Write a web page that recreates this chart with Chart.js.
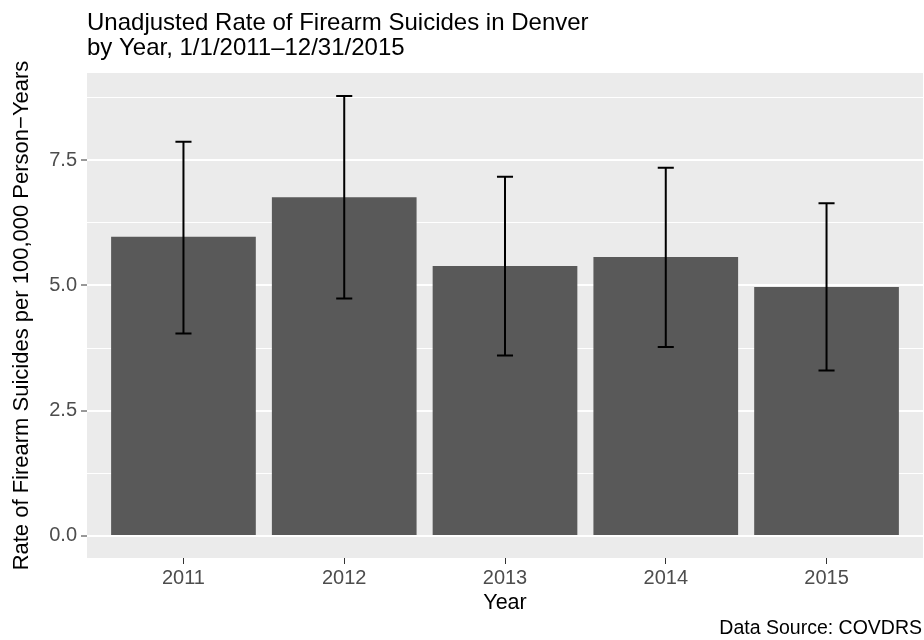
<!DOCTYPE html>
<html>
<head>
<meta charset="utf-8">
<title>Firearm Suicides in Denver</title>
<script src="https://cdn.jsdelivr.net/npm/chart.js@4.4.1/dist/chart.umd.min.js"></script>
<style>
  body { margin: 0; background: #fff; }
  canvas { display: block; }
</style>
</head>
<body>
<canvas id="rateChart" width="924" height="640"></canvas>
<script>
const years = ["2011", "2012", "2013", "2014", "2015"];
const rates = [5.97, 6.76, 5.39, 5.57, 4.97];
const lowerCI = [4.04, 4.74, 3.60, 3.77, 3.30];
const upperCI = [7.87, 8.78, 7.17, 7.35, 6.64];
const majorTicks = [0, 2.5, 5, 7.5];
const minorTicks = [1.25, 3.75, 6.25, 8.75];
const titleLines = ["Unadjusted Rate of Firearm Suicides in Denver", "by Year, 1/1/2011\u201312/31/2015"];
const caption = "Data Source: COVDRS";

const FONT = "'Liberation Sans', Arial, Helvetica, sans-serif";

// grey panel behind everything
const panelBg = {
  id: 'panelBg',
  beforeDraw(chart) {
    const { ctx, chartArea: a } = chart;
    ctx.save();
    ctx.fillStyle = '#EBEBEB';
    ctx.fillRect(a.left, a.top, a.right - a.left, a.bottom - a.top);
    ctx.restore();
  }
};

// confidence interval whiskers
const errorBars = {
  id: 'errorBars',
  afterDatasetsDraw(chart) {
    const { ctx, scales: { x, y } } = chart;
    ctx.save();
    ctx.strokeStyle = '#000';
    ctx.lineWidth = 2;
    years.forEach((yr, i) => {
      const cx = x.getPixelForValue(i + 1);
      const half = x.getPixelForValue(i + 1.05) - cx;
      const top = y.getPixelForValue(upperCI[i]);
      const bot = y.getPixelForValue(lowerCI[i]);
      ctx.beginPath();
      ctx.moveTo(cx, top); ctx.lineTo(cx, bot);
      ctx.moveTo(cx - half, top); ctx.lineTo(cx + half, top);
      ctx.moveTo(cx - half, bot); ctx.lineTo(cx + half, bot);
      ctx.stroke();
    });
    ctx.restore();
  }
};

// title top-left of panel, caption bottom-right
const texts = {
  id: 'texts',
  afterDraw(chart) {
    const { ctx, chartArea: a } = chart;
    ctx.save();
    ctx.fillStyle = '#000';
    ctx.font = '24px ' + FONT;
    ctx.textAlign = 'left';
    ctx.textBaseline = 'alphabetic';
    ctx.fillText(titleLines[0], a.left, 30);
    ctx.fillText(titleLines[1], a.left, 55);
    ctx.font = '19.5px ' + FONT;
    ctx.textAlign = 'right';
    ctx.fillText(caption, a.right - 1, 634);
    ctx.restore();
  }
};

new Chart(document.getElementById('rateChart'), {
  type: 'bar',
  data: {
    datasets: [{
      label: 'Rate',
      data: rates.map((r, i) => ({ x: i + 1, y: r })),
      backgroundColor: '#595959',
      borderWidth: 0,
      categoryPercentage: 0.9,
      barPercentage: 1.0
    }]
  },
  options: {
    responsive: false,
    animation: false,
    layout: { padding: { top: 73, right: 1, left: 0, bottom: 0 } },
    plugins: {
      legend: { display: false },
      tooltip: { enabled: false }
    },
    scales: {
      x: {
        type: 'linear',
        min: 0.4,
        max: 5.6,
        offset: false,
        afterBuildTicks: (scale) => { scale.ticks = years.map((y, i) => ({ value: i + 1 })); },
        afterFit: (scale) => { scale.height = 82; },
        border: { display: false },
        grid: { offset: false, drawOnChartArea: false, tickLength: 6, tickColor: '#333333', tickWidth: 1 },
        ticks: {
          autoSkip: false,
          maxRotation: 0,
          padding: 2,
          color: '#4D4D4D',
          font: { family: FONT, size: 20 },
          callback: (v) => years[v - 1]
        },
        title: {
          display: true,
          text: 'Year',
          color: '#000',
          font: { family: FONT, size: 21.5 },
          padding: { top: 0, bottom: 24 }
        }
      },
      y: {
        min: -0.44,
        max: 9.24,
        afterBuildTicks: (scale) => {
          scale.ticks = majorTicks.concat(minorTicks).sort((a, b) => a - b).map(v => ({ value: v }));
        },
        afterFit: (scale) => { scale.width = 87; },
        border: { display: false },
        grid: {
          color: '#FFFFFF',
          lineWidth: (c) => majorTicks.includes(c.tick.value) ? 2 : 1,
          tickColor: (c) => majorTicks.includes(c.tick.value) ? '#333333' : 'rgba(0,0,0,0)',
          tickLength: 6,
          tickWidth: 1
        },
        ticks: {
          padding: 4,
          color: '#4D4D4D',
          font: { family: FONT, size: 20 },
          callback: (v) => majorTicks.includes(v) ? v.toFixed(1) : ''
        },
        title: {
          display: true,
          text: 'Rate of Firearm Suicides per 100,000 Person\u2212Years',
          color: '#000',
          font: { family: FONT, size: 22, lineHeight: 1 },
          padding: { top: 11, bottom: 0 }
        }
      }
    }
  },
  plugins: [panelBg, errorBars, texts]
});
</script>
</body>
</html>
